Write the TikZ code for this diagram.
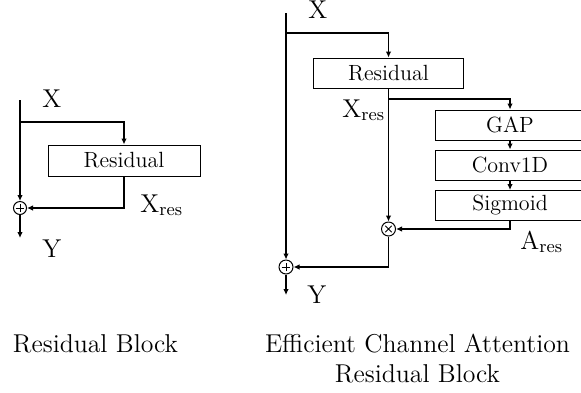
\documentclass[tikz,border=0pt]{standalone}
\usepackage{amsmath}
\usetikzlibrary{positioning, arrows.meta, calc}
\tikzset{
  block/.style={draw, line width=0.5pt, minimum width=75pt, minimum height=15pt, inner sep=0pt, font=\fontsize{11}{12}\selectfont},
  wire/.style={line width=0.8pt},
  flow/.style={line width=0.8pt, -{Latex[length=3pt,width=2.8pt]}},
  lbl/.style={inner sep=0pt, anchor=base west, font=\fontsize{12.9}{15.2}\selectfont},
  caption/.style={inner sep=0pt, anchor=base, font=\fontsize{12.9}{15.2}\selectfont},
  opsum/.style={draw, circle, line width=0.5pt, minimum size=7pt, inner sep=0pt,
    path picture={\draw[line width=0.5pt] (path picture bounding box.center) +(-2.2pt,0) -- +(2.2pt,0)
      (path picture bounding box.center) +(0,-2.2pt) -- +(0,2.2pt);}},
  opmul/.style={draw, circle, line width=0.5pt, minimum size=7pt, inner sep=0pt,
    path picture={\draw[line width=0.5pt] (path picture bounding box.center) +(-1.6pt,-1.6pt) -- +(1.6pt,1.6pt)
      (path picture bounding box.center) +(-1.6pt,1.6pt) -- +(1.6pt,-1.6pt);}}
}
\begin{document}
\begin{tikzpicture}[x=0.5pt, y=-0.5pt]
  \useasboundingbox (0,0) rectangle (581,392);

  % residual block
  \coordinate (inL) at (20,100);
  \coordinate (splitL) at (20,122);
  \coordinate (outL) at (20,238);
  \node[block, minimum width=76pt, minimum height=15.5pt] (resL) at (124,160.5) {Residual};
  \node[opsum, minimum size=6.5pt] (plusL) at (20,208) {};
  \node[lbl] (xL) at (42,107) {X};
  \node[lbl] (xresL) at (140,212) {X$_{\mathrm{res}}$};
  \node[lbl] (yL) at (42,257) {Y};
  \draw[flow] (inL) -- (plusL);
  \draw[flow] (splitL) -| (resL.north);
  \draw[flow] (resL.south) |- (plusL);
  \draw[flow] (plusL) -- (outL);
  \node[caption] (capL) at (95.5,352) {Residual Block};

  % efficient channel attention residual block
  \coordinate (inR) at (286,13);
  \coordinate (splitR) at (286,33);
  \coordinate (outR) at (286,295);
  \node[block] (resR) at (388.5,73) {Residual};
  \coordinate (splitA) at (388.5,99);
  \node[block] (gap) at (510,125) {GAP};
  \node[block] (conv) at (510,165) {Conv1D};
  \node[block] (sig) at (510,205.5) {Sigmoid};
  \node[opmul] (mulR) at (388.5,229) {};
  \node[opsum] (plusR) at (286,267) {};
  \node[lbl] (xR) at (308,18) {X};
  \node[lbl] (xresR) at (342,117) {X$_{\mathrm{res}}$};
  \node[lbl] (ares) at (520,249) {A$_{\mathrm{res}}$};
  \node[lbl] (yR) at (307,303) {Y};
  \draw[flow] (inR) -- (plusR);
  \draw[flow] (splitR) -| (resR.north);
  \draw[flow] (resR.south) -- (mulR);
  \draw[flow] (splitA) -| (gap.north);
  \draw[flow] (gap) -- (conv);
  \draw[flow] (conv) -- (sig);
  \draw[flow] (sig.south) |- (mulR);
  \draw[flow] (mulR.south) |- (plusR);
  \draw[flow] (plusR) -- (outR);
  \node[caption] (capR) at (417.5,352) {Efficient Channel Attention};
  \node[caption] (capR2) at (417.5,382) {Residual Block};
\end{tikzpicture}
\end{document}
